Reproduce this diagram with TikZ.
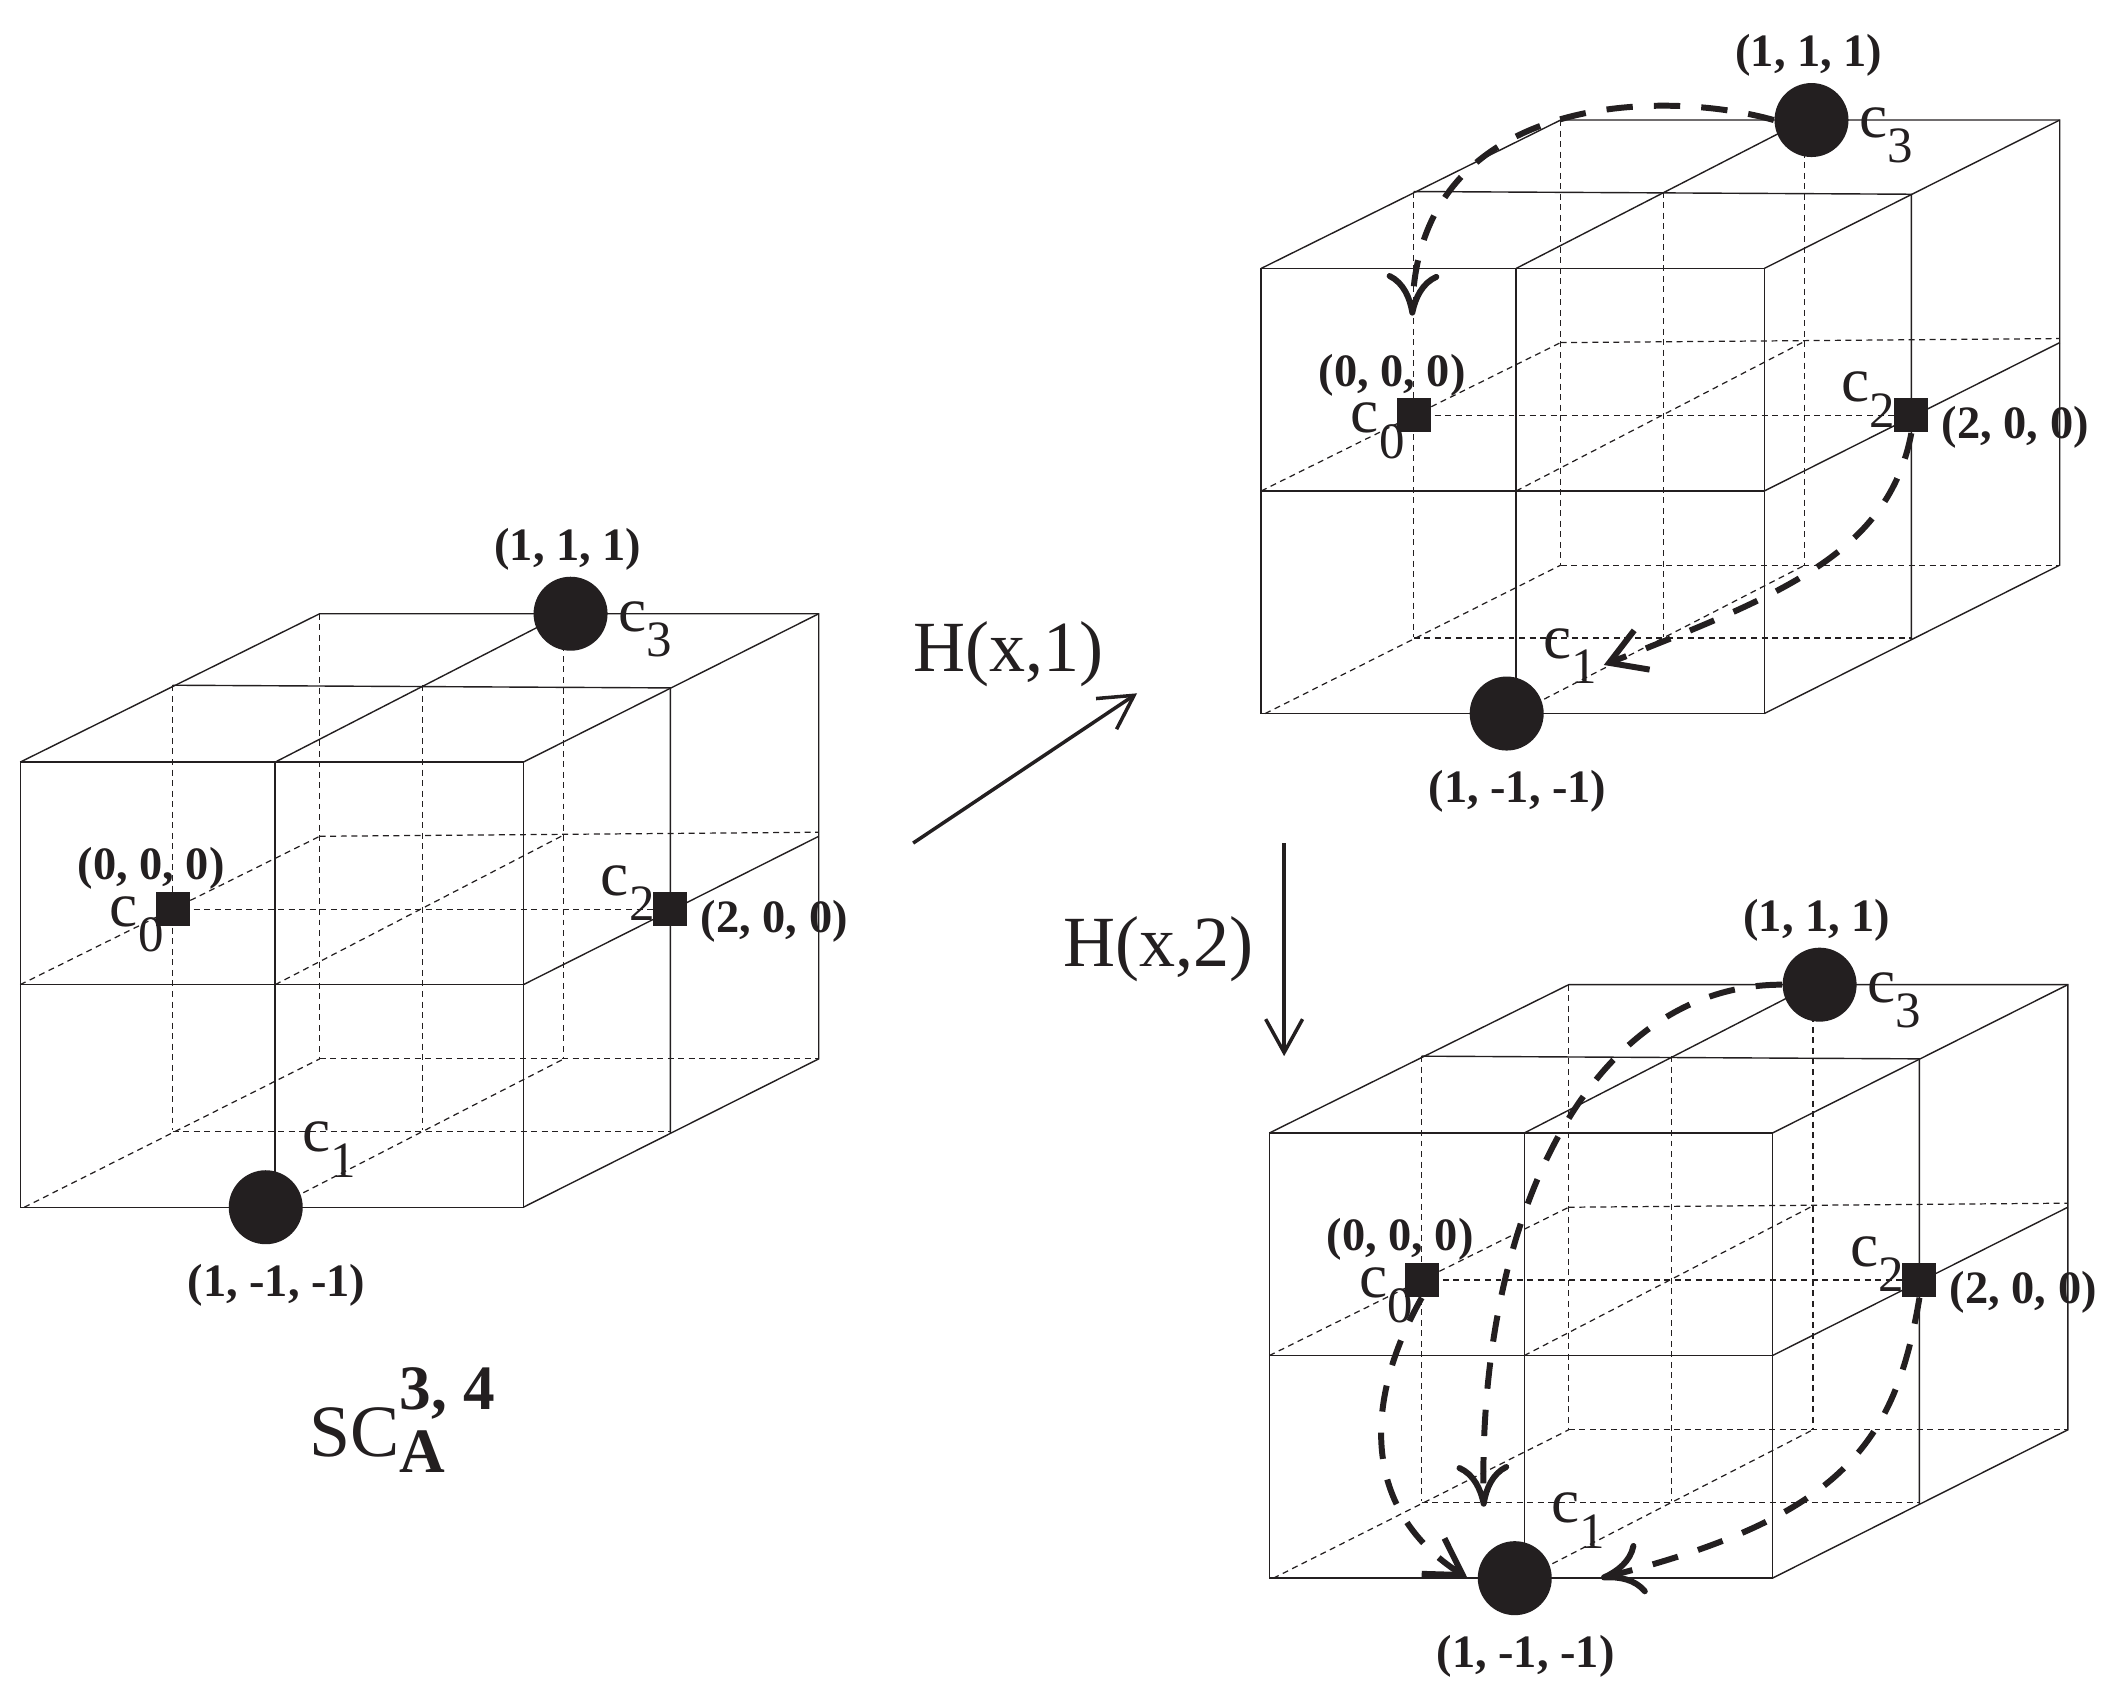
\documentclass[tikz,border=0pt]{standalone}
\usepackage{fontspec}
\setmainfont{Liberation Serif}
\usepackage{tikz}
\usetikzlibrary{arrows.meta}

\definecolor{inkblack}{HTML}{231F20}

\tikzset{
   cubeline/.style={inkblack, line width=.4pt},
   cubedash/.style={inkblack, line width=.35pt, dash pattern=on 1.7pt off 1.3pt},
   bigdot/.style={circle, fill=inkblack, inner sep=0, minimum size=.74cm},
   smallbox/.style={rectangle, fill=inkblack, inner sep=0, minimum size=.34cm},
   coordtext/.style={inkblack, inner sep=0, font=\fontsize{13.2}{15}\selectfont\bfseries},
   cornertext/.style={inkblack, inner sep=0, anchor=base west, font=\fontsize{18}{20}\selectfont},
   maptext/.style={inkblack, inner sep=0, font=\fontsize{20.5}{24}\selectfont},
   maparrow/.style={inkblack, line width=1pt, -{Straight Barb[length=9.5pt,width=10.5pt]}},
   flowline/.style={inkblack, line width=1.7pt, dash pattern=on 7.5pt off 6pt},
   flowcurved/.style={flowline, -{Computer Modern Rightarrow[length=12pt,width=15pt]}},
   flowstraight/.style={flowline, -{Straight Barb[length=10pt,width=12pt]}}
}

\newcommand{\cidx}[1]{c\raisebox{-.4em}{\fontsize{14.5}{15}\selectfont #1}}

% one cube with its four marked points, origin at the lower left front corner
\newcommand{\gridcube}[3]{
   \begin{scope}[shift={(#2,#3)}]
      \draw[cubeline] (0,0) rectangle (373,-330);
      \draw[cubeline] (189,0) -- (189,-330);
      \draw[cubeline] (0,-165) -- (373,-165);
      \draw[cubeline] (0,-330) -- (222,-440) -- (592,-440) -- (592,-110) -- (373,0);
      \draw[cubeline] (189,-330) -- (403,-440);
      \draw[cubeline] (373,-330) -- (592,-440);
      \draw[cubeline] (373,-165) -- (592,-275);
      \draw[cubeline] (113,-387) -- (482,-385) -- (482,-55);

      \foreach \x/\y in {113/-387,298/-387,222/-440,403/-440}
      \draw[cubedash] (\x,\y) -- (\x,\y+330);

      \draw[cubedash] (3,0) -- (222,-110);
      \draw[cubedash] (189,0) -- (403,-110);
      \draw[cubedash] (0,-165) -- (222,-275);
      \draw[cubedash] (189,-165) -- (403,-276);
      \draw[cubedash] (222,-275) -- (592,-278);
      \draw[cubedash] (222,-110) -- (592,-110);
      \draw[cubedash] (113,-221) -- (482,-221);
      \draw[cubedash] (113,-56) -- (482,-56);

      \node[smallbox] (#1c0) at (113,-221) {};
      \node[bigdot] (#1c1) at (182,0) {};
      \node[smallbox] (#1c2) at (482,-221) {};
      \node[bigdot] (#1c3) at (408,-440) {};

      \node[cornertext] (#1name0) at (66,-208) {\cidx{0}};
      \node[cornertext] (#1name1) at (209,-41) {\cidx{1}};
      \node[cornertext] (#1name2) at (430,-231) {\cidx{2}};
      \node[cornertext] (#1name3) at (443,-427) {\cidx{3}};

      \node[coordtext] (#1val0) at (97,-251) {(0, 0, 0)};
      \node[coordtext] (#1val1) at (190,58) {(1, -1, -1)};
      \node[coordtext] (#1val2) at (559,-212) {(2, 0, 0)};
      \node[coordtext] (#1val3) at (406,-488) {(1, 1, 1)};
   \end{scope}
}

\begin{document}
\begin{tikzpicture}[x=.01349cm, y=-.01349cm]
   \useasboundingbox (0,0) rectangle (1568,1262);

   \gridcube{a}{15}{895}
   \gridcube{t}{935}{529}
   \gridcube{b}{941}{1170}

   \node[cornertext, font=\fontsize{21}{24}\selectfont] (scname) at (229,1080)
   {SC\rlap{\raisebox{-4.6pt}{\fontsize{18}{20}\selectfont\bfseries A}}\raisebox{13.5pt}{\fontsize{18}{20}\selectfont\bfseries 3, 4}};

   \node[maptext] (hone) at (748,485) {H(x,1)};
   \node[maptext] (htwo) at (859,704) {H(x,2)};

   \coordinate (honefrom) at (677,625);
   \coordinate (honeto) at (843,514);
   \coordinate (htwofrom) at (952,625);
   \coordinate (htwoto) at (952,783);
   \draw[maparrow] (honefrom) -- (honeto);
   \draw[maparrow] (htwofrom) -- (htwoto);

   % flows in the upper cube
   \coordinate (tendzero) at (1047,234);
   \coordinate (tendone) at (1189,493);
   \draw[flowcurved] (tc3.west) .. controls (1230,65) and (1050,70) .. (tendzero);
   \draw[flowstraight] (tc2.south) .. controls (1400,410) and (1321,441) .. (tendone);

   % flows in the lower cube
   \coordinate (bendthree) at (1100,1117);
   \coordinate (bendzero) at (1088,1170);
   \coordinate (bendtwo) at (1187,1170);
   \draw[flowcurved] (bc3.west) .. controls (1180,730) and (1095,900) .. (bendthree);
   \draw[flowstraight] (bc0.south) .. controls (1010,1040) and (1010,1120) .. (bendzero);
   \draw[flowcurved] (bc2.south) .. controls (1405,1070) and (1366,1125) .. (bendtwo);
\end{tikzpicture}
\end{document}
